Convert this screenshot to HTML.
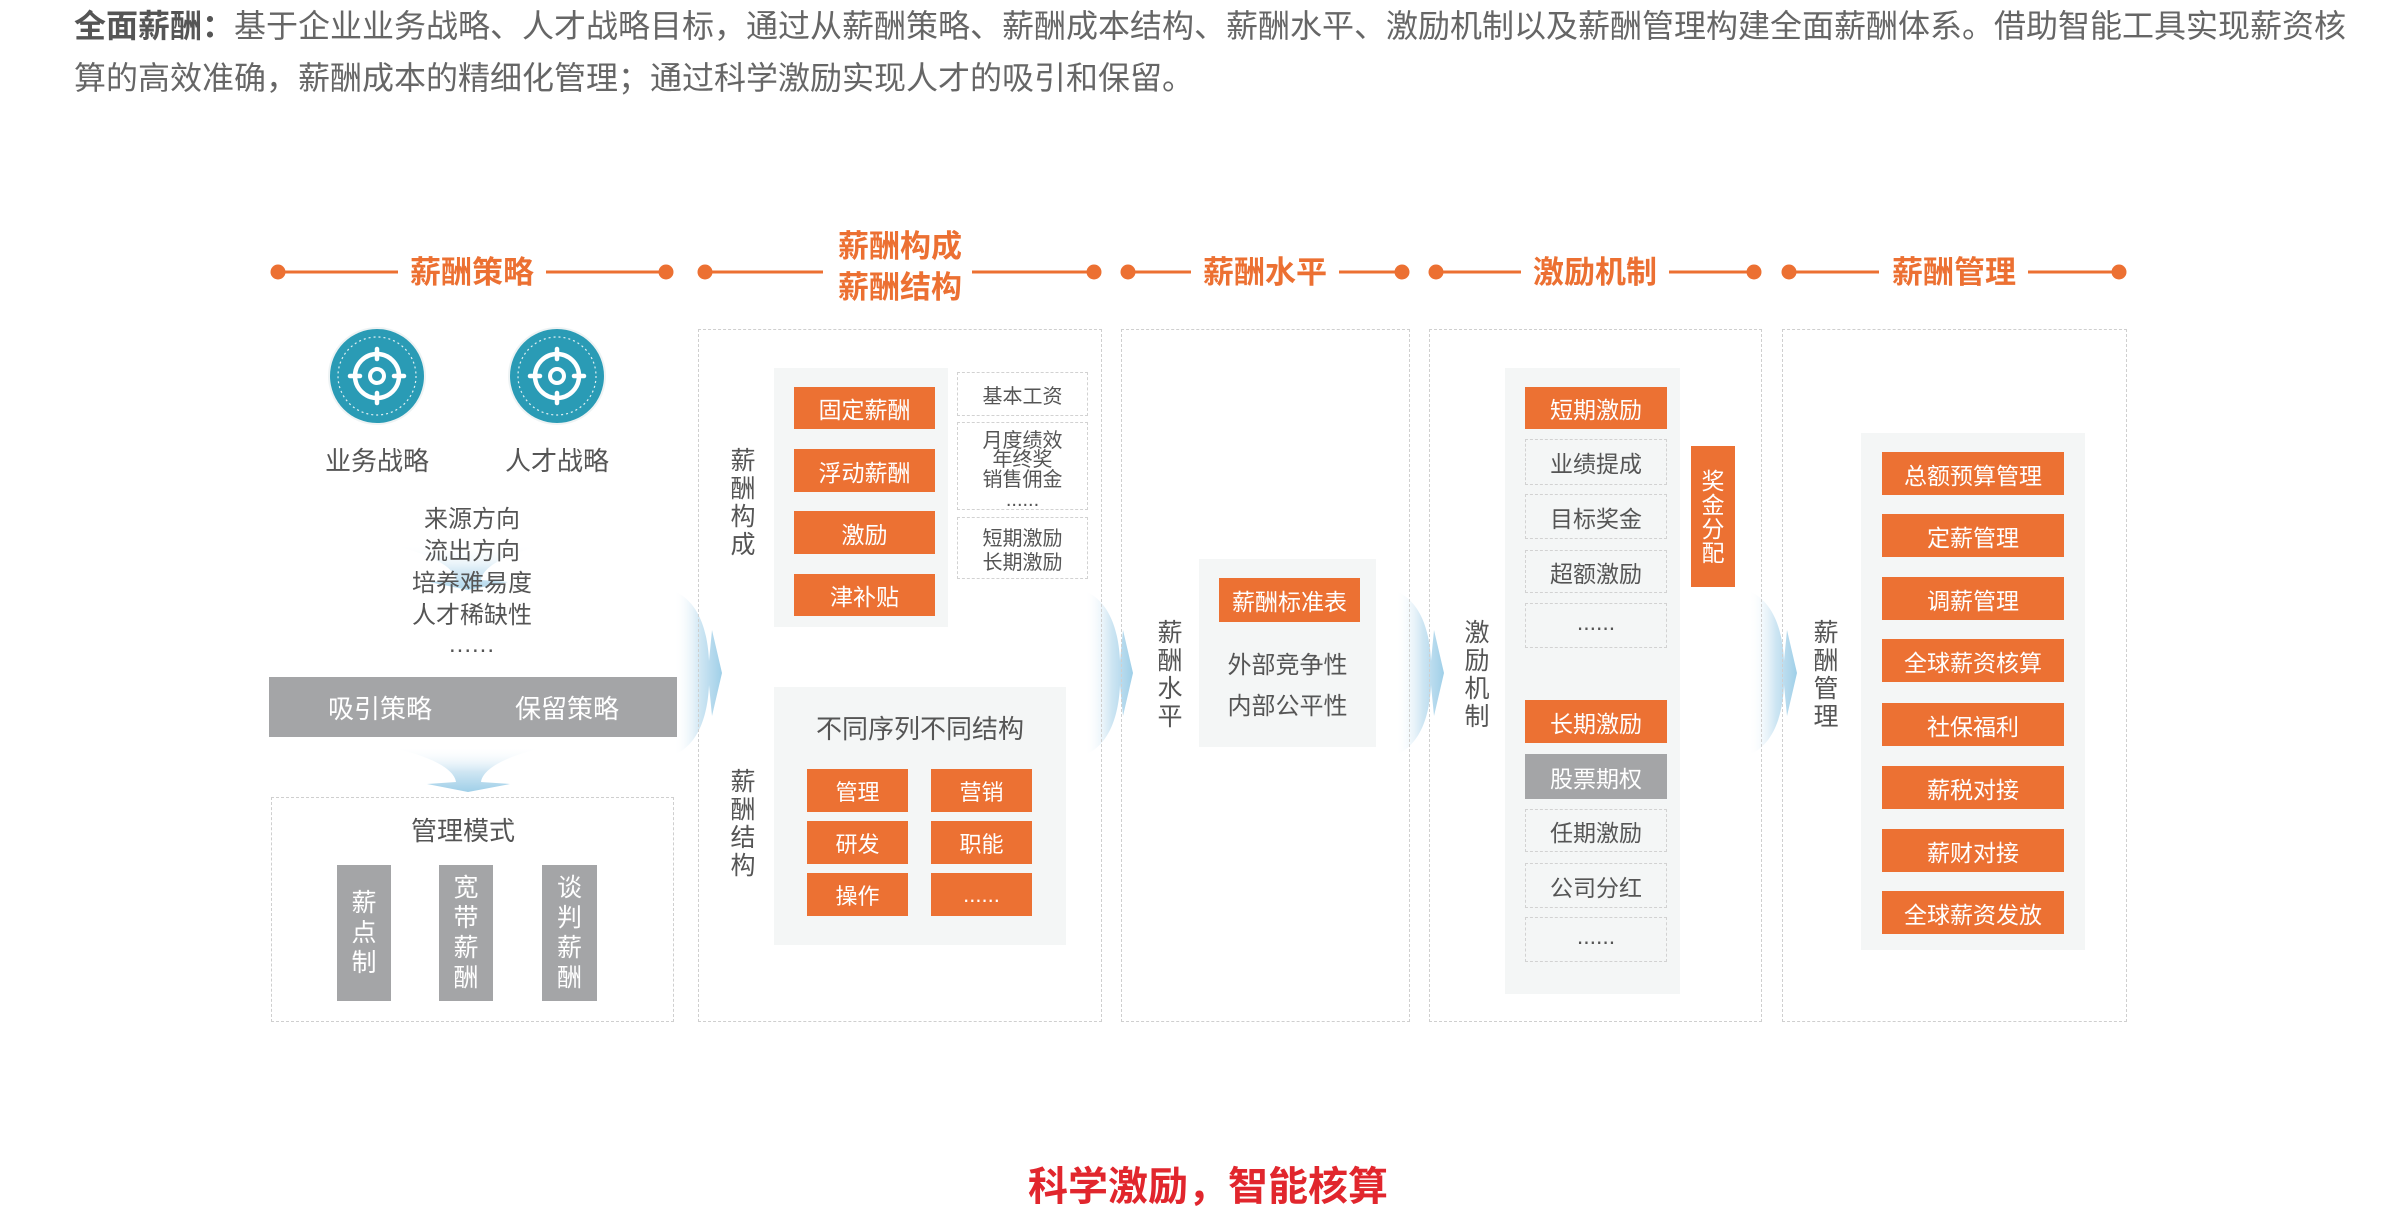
<!DOCTYPE html>
<html><head><meta charset="utf-8">
<style>
*{margin:0;padding:0;box-sizing:border-box}
body{width:2400px;height:1212px;background:#fff;position:relative;overflow:hidden;font-family:"Liberation Sans","Noto Sans CJK SC",sans-serif;color:#555}
.a{position:absolute}
.c{position:absolute;display:flex;align-items:center;justify-content:center;text-align:center;white-space:nowrap}
.or{background:#ec7133;color:#fff}
.gr{background:#a4a5a7;color:#fff}
.dbox{position:absolute;border:1.5px dashed #cfcfcf}
.pan{position:absolute;background:#f4f6f6}
.dsh{border:1.5px dashed #d2d2d2}
.t{font-weight:bold;color:#ec7032;font-size:31px;line-height:41px}
.v{position:absolute;font-size:25px;line-height:28px;width:34px;text-align:center;color:#555}
.f23{font-size:23px}
.f20{font-size:20px}
</style></head><body>

<svg class="a" style="left:0;top:0" width="2400" height="1212" viewBox="0 0 2400 1212">
<defs>
<linearGradient id="gh" x1="0" y1="0" x2="1" y2="0">
<stop offset="0" stop-color="#ffffff" stop-opacity="0"/>
<stop offset="0.55" stop-color="#cfe6f3"/>
<stop offset="1" stop-color="#9fcfe8"/>
</linearGradient>
<linearGradient id="gv" x1="0" y1="0" x2="0" y2="1">
<stop offset="0" stop-color="#ffffff" stop-opacity="0"/>
<stop offset="0.55" stop-color="#cfe6f3"/>
<stop offset="1" stop-color="#9fcfe8"/>
</linearGradient>
<path id="ar" d="M-48,-82 C-20,-70 -14,-35 -13,-12 L-10,-43 L0,0 L-10,43 L-13,12 C-14,35 -20,70 -48,82 Z" fill="url(#gh)"/>
</defs>
<!-- horizontal arrows -->
<use href="#ar" transform="translate(722,673)"/>
<use href="#ar" transform="translate(1133,673)"/>
<use href="#ar" transform="translate(1444,673)"/>
<use href="#ar" transform="translate(1797,673)"/>
<!-- down arrows -->
<path d="M387,747 L548,747 C512,754 483,767 481,782 L510,784 L468,792 L427,784 L456,782 C454,767 424,754 387,747 Z" fill="url(#gv)"/>
<path d="M390,545 L546,545 C512,552 483,565 481,580 L508,582 L468,590 L429,582 L456,580 C454,565 424,552 390,545 Z" fill="url(#gv)" opacity="0.8"/>

<!-- title lines -->
<g stroke="#ec7032" stroke-width="3" fill="#ec7032">
<line x1="278" y1="272" x2="398" y2="272"/><line x1="546" y1="272" x2="666" y2="272"/>
<circle cx="278" cy="272" r="7.5" stroke="none"/><circle cx="666" cy="272" r="7.5" stroke="none"/>
<line x1="705" y1="272" x2="823" y2="272"/><line x1="972" y1="272" x2="1094" y2="272"/>
<circle cx="705" cy="272" r="7.5" stroke="none"/><circle cx="1094" cy="272" r="7.5" stroke="none"/>
<line x1="1128" y1="272" x2="1191" y2="272"/><line x1="1339" y1="272" x2="1402" y2="272"/>
<circle cx="1128" cy="272" r="7.5" stroke="none"/><circle cx="1402" cy="272" r="7.5" stroke="none"/>
<line x1="1436" y1="272" x2="1521" y2="272"/><line x1="1669" y1="272" x2="1754" y2="272"/>
<circle cx="1436" cy="272" r="7.5" stroke="none"/><circle cx="1754" cy="272" r="7.5" stroke="none"/>
<line x1="1789" y1="272" x2="1879" y2="272"/><line x1="2028" y1="272" x2="2119" y2="272"/>
<circle cx="1789" cy="272" r="7.5" stroke="none"/><circle cx="2119" cy="272" r="7.5" stroke="none"/>
</g>

<!-- icons -->
<g transform="translate(377,376)">
<circle r="49" fill="#eef3f4"/>
<circle r="47" fill="#2a9bb5"/>
<circle r="39" fill="none" stroke="#fff" stroke-width="1.2" stroke-dasharray="2 3" opacity="0.85"/>
<circle r="22" fill="none" stroke="#fff" stroke-width="4.5"/>
<circle r="7" fill="none" stroke="#fff" stroke-width="4"/>
<g stroke="#fff" stroke-width="4.5" stroke-linecap="round"><line x1="0" y1="-27" x2="0" y2="-17"/><line x1="0" y1="27" x2="0" y2="17"/><line x1="-27" y1="0" x2="-17" y2="0"/><line x1="27" y1="0" x2="17" y2="0"/></g>
</g>
<g transform="translate(557,376)">
<circle r="49" fill="#eef3f4"/>
<circle r="47" fill="#2a9bb5"/>
<circle r="39" fill="none" stroke="#fff" stroke-width="1.2" stroke-dasharray="2 3" opacity="0.85"/>
<circle r="22" fill="none" stroke="#fff" stroke-width="4.5"/>
<circle r="7" fill="none" stroke="#fff" stroke-width="4"/>
<g stroke="#fff" stroke-width="4.5" stroke-linecap="round"><line x1="0" y1="-27" x2="0" y2="-17"/><line x1="0" y1="27" x2="0" y2="17"/><line x1="-27" y1="0" x2="-17" y2="0"/><line x1="27" y1="0" x2="17" y2="0"/></g>
</g>
</svg>

<!-- top paragraph -->
<div class="a" style="left:74px;top:0;font-size:32px;line-height:52px;color:#666;white-space:nowrap"><b style="color:#555">全面薪酬：</b>基于企业业务战略、人才战略目标，通过从薪酬策略、薪酬成本结构、薪酬水平、激励机制以及薪酬管理构建全面薪酬体系。借助智能工具实现薪资核<br>算的高效准确，薪酬成本的精细化管理；通过科学激励实现人才的吸引和保留。</div>

<!-- titles -->
<div class="c t" style="left:372px;top:251px;width:200px;height:42px">薪酬策略</div>
<div class="c t" style="left:800px;top:226px;width:200px;height:82px">薪酬构成<br>薪酬结构</div>
<div class="c t" style="left:1165px;top:251px;width:200px;height:42px">薪酬水平</div>
<div class="c t" style="left:1495px;top:251px;width:200px;height:42px">激励机制</div>
<div class="c t" style="left:1854px;top:251px;width:200px;height:42px">薪酬管理</div>

<!-- column 1 -->
<div class="c" style="left:317px;top:443px;width:120px;height:32px;font-size:26px">业务战略</div>
<div class="c" style="left:497px;top:443px;width:120px;height:32px;font-size:26px">人才战略</div>
<div class="c" style="left:322px;top:500px;width:300px;height:32px;font-size:24px">来源方向</div>
<div class="c" style="left:322px;top:532px;width:300px;height:32px;font-size:24px">流出方向</div>
<div class="c" style="left:322px;top:564px;width:300px;height:32px;font-size:24px">培养难易度</div>
<div class="c" style="left:322px;top:596px;width:300px;height:32px;font-size:24px">人才稀缺性</div>
<div class="c" style="left:322px;top:630px;width:300px;height:30px;font-size:24px;letter-spacing:1px">......</div>
<div class="a gr" style="left:269px;top:677px;width:408px;height:60px"></div>
<div class="c" style="left:310px;top:677px;width:140px;height:60px;font-size:26px;color:#fff">吸引策略</div>
<div class="c" style="left:497px;top:677px;width:140px;height:60px;font-size:26px;color:#fff">保留策略</div>
<div class="dbox" style="left:271px;top:797px;width:403px;height:225px"></div>
<div class="c" style="left:363px;top:813px;width:200px;height:32px;font-size:26px">管理模式</div>
<div class="c gr" style="left:337px;top:865px;width:54px;height:136px;font-size:25px;line-height:30px;white-space:normal">薪<br>点<br>制</div>
<div class="c gr" style="left:439px;top:865px;width:54px;height:136px;font-size:25px;line-height:30px;white-space:normal">宽<br>带<br>薪<br>酬</div>
<div class="c gr" style="left:542px;top:865px;width:55px;height:136px;font-size:25px;line-height:30px;white-space:normal">谈<br>判<br>薪<br>酬</div>

<!-- column 2 -->
<div class="dbox" style="left:698px;top:329px;width:404px;height:693px"></div>
<div class="v" style="left:726px;top:447px">薪<br>酬<br>构<br>成</div>
<div class="v" style="left:726px;top:768px">薪<br>酬<br>结<br>构</div>
<div class="pan" style="left:774px;top:368px;width:174px;height:259px"></div>
<div class="c or f23" style="left:794px;top:387px;width:141px;height:42px">固定薪酬</div>
<div class="c or f23" style="left:794px;top:449px;width:141px;height:43px">浮动薪酬</div>
<div class="c or f23" style="left:794px;top:511px;width:141px;height:43px">激励</div>
<div class="c or f23" style="left:794px;top:574px;width:141px;height:42px">津补贴</div>
<div class="c dsh f20" style="left:957px;top:372px;width:131px;height:44px">基本工资</div>
<div class="a dsh" style="left:957px;top:422px;width:131px;height:88px"></div>
<div class="c f20" style="left:957px;top:428px;width:131px;height:20px">月度绩效</div>
<div class="c f20" style="left:957px;top:447px;width:131px;height:20px">年终奖</div>
<div class="c f20" style="left:957px;top:467px;width:131px;height:20px">销售佣金</div>
<div class="c f20" style="left:957px;top:490px;width:131px;height:20px">......</div>
<div class="a dsh" style="left:957px;top:517px;width:131px;height:62px"></div>
<div class="c f20" style="left:957px;top:524px;width:131px;height:24px">短期激励</div>
<div class="c f20" style="left:957px;top:548px;width:131px;height:24px">长期激励</div>
<div class="pan" style="left:774px;top:687px;width:292px;height:258px"></div>
<div class="c" style="left:774px;top:710px;width:292px;height:34px;font-size:26px">不同序列不同结构</div>
<div class="c or" style="left:807px;top:769px;width:101px;height:43px;font-size:22px">管理</div>
<div class="c or" style="left:931px;top:769px;width:101px;height:43px;font-size:22px">营销</div>
<div class="c or" style="left:807px;top:821px;width:101px;height:43px;font-size:22px">研发</div>
<div class="c or" style="left:931px;top:821px;width:101px;height:43px;font-size:22px">职能</div>
<div class="c or" style="left:807px;top:873px;width:101px;height:43px;font-size:22px">操作</div>
<div class="c or" style="left:931px;top:873px;width:101px;height:43px;font-size:22px">......</div>

<!-- column 3 -->
<div class="dbox" style="left:1121px;top:329px;width:289px;height:693px"></div>
<div class="v" style="left:1153px;top:619px">薪<br>酬<br>水<br>平</div>
<div class="pan" style="left:1199px;top:559px;width:177px;height:188px"></div>
<div class="c or f23" style="left:1219px;top:578px;width:141px;height:44px">薪酬标准表</div>
<div class="c" style="left:1199px;top:647px;width:177px;height:30px;font-size:24px">外部竞争性</div>
<div class="c" style="left:1199px;top:688px;width:177px;height:30px;font-size:24px">内部公平性</div>

<!-- column 4 -->
<div class="dbox" style="left:1429px;top:329px;width:333px;height:693px"></div>
<div class="v" style="left:1460px;top:619px">激<br>励<br>机<br>制</div>
<div class="pan" style="left:1505px;top:368px;width:175px;height:626px"></div>
<div class="c or f23" style="left:1525px;top:387px;width:142px;height:42px">短期激励</div>
<div class="c dsh f23" style="left:1525px;top:439px;width:142px;height:46px">业绩提成</div>
<div class="c dsh f23" style="left:1525px;top:494px;width:142px;height:45px">目标奖金</div>
<div class="c dsh f23" style="left:1525px;top:550px;width:142px;height:43px">超额激励</div>
<div class="c dsh f23" style="left:1525px;top:603px;width:142px;height:45px;padding-bottom:6px">......</div>
<div class="c or f23" style="left:1525px;top:700px;width:142px;height:43px">长期激励</div>
<div class="c gr f23" style="left:1525px;top:754px;width:142px;height:45px">股票期权</div>
<div class="c dsh f23" style="left:1525px;top:809px;width:142px;height:43px">任期激励</div>
<div class="c dsh f23" style="left:1525px;top:863px;width:142px;height:45px">公司分红</div>
<div class="c dsh f23" style="left:1525px;top:917px;width:142px;height:45px;padding-bottom:6px">......</div>
<div class="c or f23" style="left:1691px;top:446px;width:44px;height:141px;line-height:24px;white-space:normal">奖<br>金<br>分<br>配</div>

<!-- column 5 -->
<div class="dbox" style="left:1782px;top:329px;width:345px;height:693px"></div>
<div class="v" style="left:1809px;top:619px">薪<br>酬<br>管<br>理</div>
<div class="pan" style="left:1861px;top:433px;width:224px;height:517px"></div>
<div class="c or f23" style="left:1882px;top:452px;width:182px;height:43px">总额预算管理</div>
<div class="c or f23" style="left:1882px;top:514px;width:182px;height:43px">定薪管理</div>
<div class="c or f23" style="left:1882px;top:577px;width:182px;height:43px">调薪管理</div>
<div class="c or f23" style="left:1882px;top:639px;width:182px;height:43px">全球薪资核算</div>
<div class="c or f23" style="left:1882px;top:703px;width:182px;height:43px">社保福利</div>
<div class="c or f23" style="left:1882px;top:766px;width:182px;height:43px">薪税对接</div>
<div class="c or f23" style="left:1882px;top:829px;width:182px;height:43px">薪财对接</div>
<div class="c or f23" style="left:1882px;top:891px;width:182px;height:43px">全球薪资发放</div>

<!-- bottom slogan -->
<div class="c" style="left:958px;top:1157px;width:500px;height:52px;font-size:40px;font-weight:bold;color:#e1262d">科学激励，智能核算</div>

</body></html>
